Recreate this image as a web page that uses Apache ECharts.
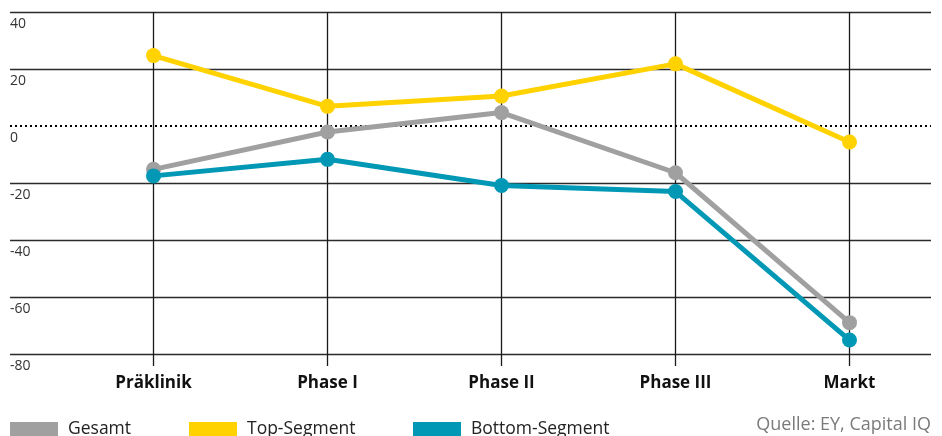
<!DOCTYPE html>
<html>
<head>
<meta charset="utf-8">
<script src="https://cdn.jsdelivr.net/npm/echarts@6/dist/echarts.min.js"></script>
<style>
  html, body { margin: 0; padding: 0; background: #fff; }
  #chart { width: 942px; height: 436px; }
</style>
</head>
<body>
<div id="chart"></div>
<script>
// Phases of development
const categories = ['Präklinik', 'Phase I', 'Phase II', 'Phase III', 'Markt'];

// Values per segment (%)
const gesamt = [-15.2, -2.1, 4.7, -16.4, -69.0];
const topSegment = [24.7, 6.9, 10.5, 21.8, -5.6];
const bottomSegment = [-17.5, -11.7, -20.9, -23.0, -75.1];

// Value axis range
const yMin = -80;
const yMax = 40;
const yStep = 20;

const seriesNames = ['Gesamt', 'Top-Segment', 'Bottom-Segment'];
const colors = ['#a0a0a0', '#ffd200', '#0098b4'];
const sourceText = 'Quelle: EY, Capital IQ';

const FONT = '"Open Sans", Roboto, sans-serif';

// one split-line colour per tick from yMin upwards; zero gets the dotted line instead
const tickValues = [];
for (let v = yMin; v <= yMax; v += yStep) tickValues.push(v);
const splitColors = tickValues.map(v => (v === 0 ? 'rgba(0,0,0,0)' : '#2b2b2b'));

const chart = echarts.init(document.getElementById('chart'), null, { renderer: 'canvas' });

function lineSeries(name, data, color) {
  return {
    name: name,
    type: 'line',
    xAxisIndex: 1,
    yAxisIndex: 1,
    data: data,
    symbol: 'circle',
    symbolSize: 15,
    lineStyle: { color: color, width: 5 },
    itemStyle: { color: color },
    emphasis: { disabled: true },
    animation: false,
    z: 5
  };
}

const legendBase = {
  top: 420,
  padding: 0,
  icon: 'rect',
  itemWidth: 48,
  itemHeight: 14,
  itemGap: 10,
  selectedMode: false,
  textStyle: { fontFamily: FONT, fontSize: 17.5, color: '#222', padding: [0, 0, 0, 5] }
};

chart.setOption({
  animation: false,
  grid: [
    { left: 10, right: 11, top: 12, bottom: 82 },
    { left: 66.5, right: 5.5, top: 12, bottom: 82 }
  ],
  xAxis: [
    { gridIndex: 0, type: 'value', min: 0, max: 1, show: false },
    {
      gridIndex: 1, type: 'category', data: categories, position: 'top',
      axisLine: { show: false, onZero: false },
      axisTick: { show: true, alignWithLabel: true, inside: true, length: 354, lineStyle: { color: '#1a1a1a', width: 1.3 } },
      axisLabel: { show: false },
      splitLine: { show: false }
    },
    {
      gridIndex: 1, type: 'category', data: categories, position: 'bottom',
      axisLine: { show: false, onZero: false },
      axisTick: { show: false },
      axisLabel: { show: true, margin: 21, fontFamily: FONT, fontWeight: 'bold', fontSize: 17, color: '#111' },
      splitLine: { show: false }
    }
  ],
  yAxis: [
    {
      gridIndex: 0, type: 'value', min: yMin, max: yMax, interval: yStep,
      axisLine: { show: false }, axisTick: { show: false },
      axisLabel: {
        show: true, inside: true, margin: 0, verticalAlign: 'top', padding: [5, 0, 0, 0],
        fontFamily: FONT, fontSize: 14, color: '#333'
      },
      splitLine: { show: true, showMinLine: true, showMaxLine: true, lineStyle: { color: splitColors, width: 1.3 } }
    },
    {
      gridIndex: 1, type: 'value', min: yMin, max: yMax, interval: yStep,
      show: false, splitLine: { show: false }
    }
  ],
  legend: [
    Object.assign({}, legendBase, { left: 10, data: [seriesNames[0]] }),
    Object.assign({}, legendBase, { left: 189, data: [seriesNames[1]] }),
    Object.assign({}, legendBase, { left: 413, data: [seriesNames[2]] })
  ],
  graphic: [
    {
      type: 'text', right: 11, top: 416, silent: true,
      style: { text: sourceText, fontFamily: FONT, fontSize: 18, fill: '#7a7a7a' }
    }
  ],
  series: [
    {
      name: 'zero',
      type: 'line',
      xAxisIndex: 0,
      yAxisIndex: 0,
      data: [],
      silent: true,
      markLine: {
        silent: true,
        symbol: 'none',
        label: { show: false },
        lineStyle: { color: '#000', width: 2.2, type: [2, 3] },
        data: [{ yAxis: 0 }],
        animation: false
      }
    },
    lineSeries(seriesNames[0], gesamt, colors[0]),
    lineSeries(seriesNames[1], topSegment, colors[1]),
    lineSeries(seriesNames[2], bottomSegment, colors[2])
  ]
});
</script>
</body>
</html>
